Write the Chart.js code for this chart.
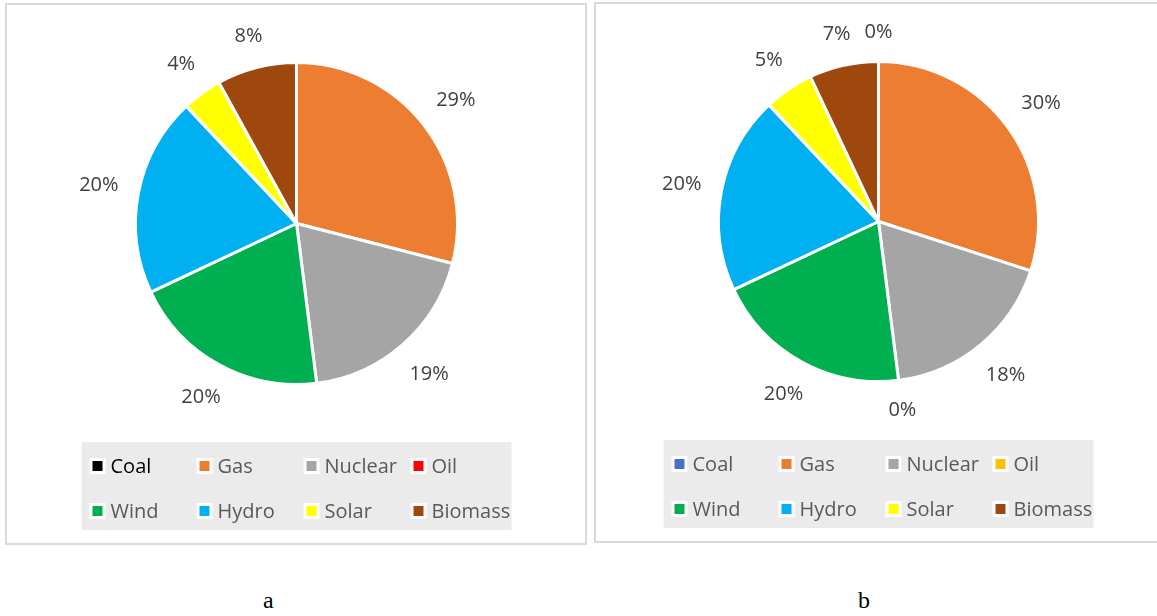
<!DOCTYPE html>
<html>
<head>
<meta charset="utf-8">
<script src="https://cdn.jsdelivr.net/npm/chart.js@4.4.1/dist/chart.umd.min.js"></script>
<style>
  body { margin: 0; background: #fff; width: 1157px; height: 616px; overflow: hidden; position: relative; }
  .panel { position: absolute; border: 2px solid #d9d9d9; }
  .caption { position: absolute; font-family: "Liberation Serif", "Times New Roman", serif; font-size: 24px; color: #000; }
</style>
</head>
<body>
<div class="panel" style="left:5px; top:3px; width:578px; height:538px;">
  <canvas id="pieA" width="578" height="538"></canvas>
</div>
<div class="panel" style="left:594px; top:2px; width:567px; height:537px;">
  <canvas id="pieB" width="567" height="537"></canvas>
</div>
<div class="caption" style="left:263px; top:587px;">a</div>
<div class="caption" style="left:858px; top:587px;">b</div>

<script>
// data
const categories = ['Coal', 'Gas', 'Nuclear', 'Oil', 'Wind', 'Hydro', 'Solar', 'Biomass'];
const sharesA = [0, 29, 19, 0, 20, 20, 4, 8];
const sharesB = [0, 30, 18, 0, 20, 20, 5, 7];
const coloursA = ['#000000', '#ED7D31', '#A5A5A5', '#FF0000', '#00B050', '#00B0F0', '#FFFF00', '#9E480E'];
const coloursB = ['#4472C4', '#ED7D31', '#A5A5A5', '#FFC000', '#00B050', '#00B0F0', '#FFFF00', '#9E480E'];

// percent labels just outside each slice
const outsideLabels = {
  id: 'outsideLabels',
  afterDatasetsDraw(chart, args, opts) {
    const ctx = chart.ctx;
    const data = chart.data.datasets[0].data;
    ctx.save();
    ctx.font = '20px "Open Sans"';
    ctx.fillStyle = '#404040';
    ctx.textAlign = 'center';
    ctx.textBaseline = 'middle';
    chart.getDatasetMeta(0).data.forEach((arc, i) => {
      if (data[i] == 0 && !opts.showZero) return;
      const p = arc.getProps(['x', 'y', 'startAngle', 'endAngle', 'outerRadius'], true);
      const mid = (p.startAngle + p.endAngle) / 2;
      const txt = data[i] + '%';
      const hw = ctx.measureText(txt).width / 2;
      const hh = 10;
      const c = Math.cos(mid), s = Math.sin(mid);
      const d = p.outerRadius + 19 + hw * Math.abs(c) + hh * Math.abs(s);
      ctx.fillText(txt, p.x + c * d, p.y + s * d);
    });
    ctx.restore();
  }
};

// grey legend box with a 4 x 2 grid of items
const gridLegend = {
  id: 'gridLegend',
  afterDraw(chart, args, opts) {
    const ctx = chart.ctx;
    const area = chart.chartArea;
    const w = 430, h = 88;
    const left = (area.left + area.right) / 2 - w / 2;
    const top = area.bottom + opts.gap;
    const colours = chart.data.datasets[0].backgroundColor;
    ctx.save();
    ctx.fillStyle = '#ebebeb';
    ctx.fillRect(left, top, w, h);
    ctx.font = '20px "Open Sans"';
    ctx.textBaseline = 'middle';
    ctx.textAlign = 'left';
    chart.data.labels.forEach((lab, i) => {
      const sx = left + 8 + (i % 4) * 107;
      const cy = top + 24 + Math.floor(i / 4) * 45;
      ctx.fillStyle = '#ffffff';
      ctx.fillRect(sx, cy - 8, 16, 16);
      ctx.fillStyle = colours[i];
      ctx.fillRect(sx + 3, cy - 5, 10, 10);
      ctx.fillStyle = (opts.darkFirst && i == 0) ? '#000000' : '#595959';
      ctx.fillText(lab, sx + 21, cy + 1);
    });
    ctx.restore();
  }
};

function makePie(id, values, colours, padding, showZero, darkFirst, gap) {
  new Chart(document.getElementById(id), {
    type: 'pie',
    data: {
      labels: categories,
      datasets: [{
        data: values,
        backgroundColor: colours,
        borderColor: '#ffffff',
        borderWidth: 3
      }]
    },
    options: {
      responsive: false,
      animation: false,
      events: [],
      layout: { padding: padding },
      plugins: {
        legend: { display: false },
        tooltip: { enabled: false },
        outsideLabels: { showZero: showZero },
        gridLegend: { darkFirst: darkFirst, gap: gap }
      }
    },
    plugins: [outsideLabels, gridLegend]
  });
}

makePie('pieA', sharesA, coloursA, { left: 127, right: 126, top: 56, bottom: 157 }, false, true, 56);
makePie('pieB', sharesB, coloursB, { left: 121, right: 123, top: 56, bottom: 158 }, true, false, 57);
</script>
</body>
</html>
